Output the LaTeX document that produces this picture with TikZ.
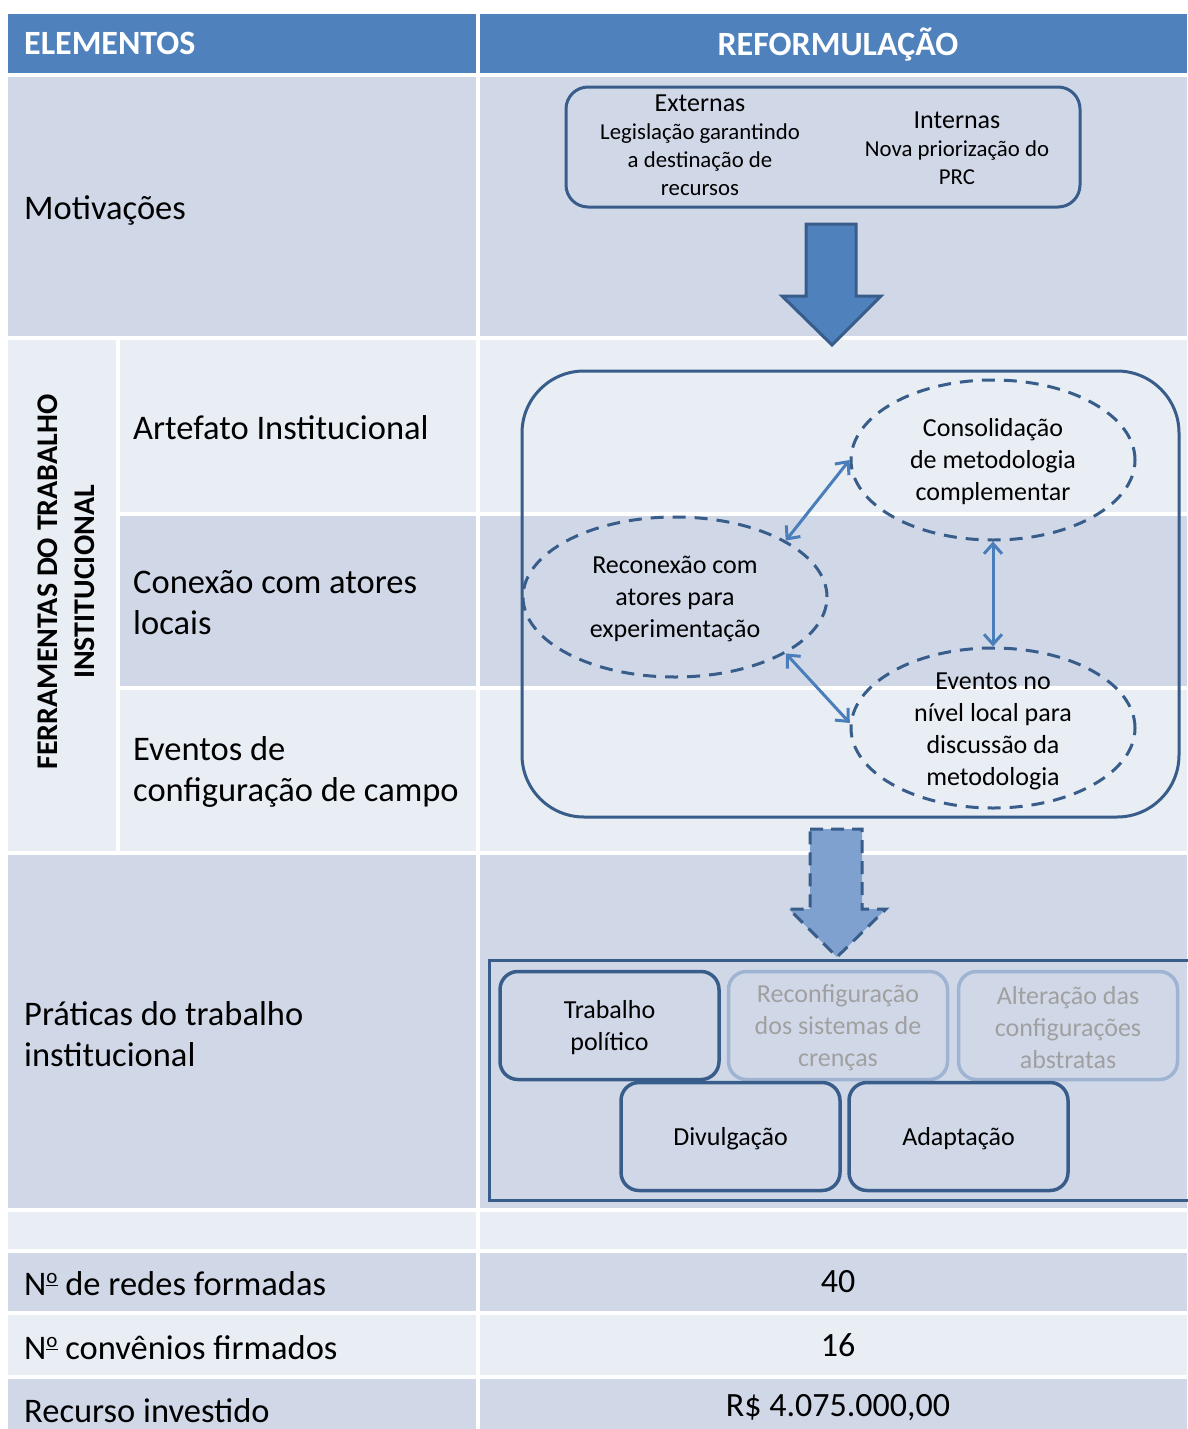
\documentclass[tikz,border=0pt]{standalone}
\usepackage{fontspec}
\setmainfont{Carlito}
\usetikzlibrary{arrows.meta,shapes.geometric}
\definecolor{hdr}{HTML}{4F81BD}
\definecolor{bandD}{HTML}{D0D8E8}
\definecolor{bandL}{HTML}{E9EDF4}
\definecolor{edge}{HTML}{385D8A}
\definecolor{link}{HTML}{4A7EBB}
\definecolor{ghost}{HTML}{9FB3D3}
\definecolor{ghosttext}{HTML}{A0A0A0}
\definecolor{softfill}{HTML}{7FA1CF}
% "No." sign with an underlined superscript o
\newcommand\numsign{N\raisebox{0.36em}{\fontsize{21}{21}\selectfont\underline{o}}}
\begin{document}
\begin{tikzpicture}[x=1pt,y=-1pt,
  bigtxt/.style={font=\fontsize{34.5}{41}\selectfont, inner sep=0pt, align=left},
  hdrtxt/.style={font=\bfseries\fontsize{34}{41}\selectfont, text=white, inner sep=0pt},
  numtxt/.style={font=\fontsize{34}{41}\selectfont, inner sep=0pt},
  midtxt/.style={font=\fontsize{26}{32}\selectfont, inner sep=0pt, align=center},
  smalltxt/.style={font=\fontsize{22.8}{28}\selectfont, inner sep=0pt, align=center},
  ghosttxt/.style={midtxt, text=ghosttext},
  cloud/.style={ellipse, draw=edge, line width=3pt, dash pattern=on 13pt off 9pt, inner sep=0pt},
  link/.style={draw=link, line width=3pt, {Straight Barb[length=10pt,width=18pt]}-{Straight Barb[length=10pt,width=18pt]}},
  pbox/.style={draw=edge, line width=3.5pt, rounded corners=18pt, minimum width=219pt, minimum height=108pt, inner sep=0pt},
  gbox/.style={pbox, draw=ghost},
  bigarrow/.style={fill=hdr, draw=edge, line width=3pt, line join=miter},
  softarrow/.style={fill=softfill, draw=edge, line width=3pt, dash pattern=on 13pt off 8pt}
]
\useasboundingbox (0,0) rectangle (1187,1429);
\fill[white] (0,0) rectangle (1187,1429);

% table cells
\fill[hdr] (8,14) rectangle (476,73);
\fill[hdr] (480,14) rectangle (1187,73);
\fill[bandD] (8,77) rectangle (476,336);
\fill[bandD] (480,77) rectangle (1187,336);
\fill[bandL] (8,340) rectangle (116,851);
\fill[bandL] (120,340) rectangle (476,512);
\fill[bandL] (480,340) rectangle (1187,512);
\fill[bandD] (120,516) rectangle (476,686);
\fill[bandD] (480,516) rectangle (1187,686);
\fill[bandL] (120,690) rectangle (476,851);
\fill[bandL] (480,690) rectangle (1187,851);
\fill[bandD] (8,855) rectangle (476,1208);
\fill[bandD] (480,855) rectangle (1187,1208);
\fill[bandL] (8,1212) rectangle (476,1249);
\fill[bandL] (480,1212) rectangle (1187,1249);
\fill[bandD] (8,1253) rectangle (476,1311);
\fill[bandD] (480,1253) rectangle (1187,1311);
\fill[bandL] (8,1315) rectangle (476,1375);
\fill[bandL] (480,1315) rectangle (1187,1375);
\fill[bandD] (8,1379) rectangle (476,1429);
\fill[bandD] (480,1379) rectangle (1187,1429);

% headings and row labels
\node[hdrtxt, anchor=west] (hElem) at (24,43) {ELEMENTOS};
\node[hdrtxt] (hRef) at (838,45) {REFORMULAÇÃO};
\node[bigtxt, anchor=west] (lMot) at (24,210) {Motivações};
\node[font=\bfseries\fontsize{30}{37}\selectfont, rotate=90, align=center, inner sep=0pt] (lFer) at (66,582) {FERRAMENTAS DO TRABALHO\\INSTITUCIONAL};
\node[bigtxt, anchor=west] (lArt) at (133,428) {Artefato Institucional};
\node[bigtxt, anchor=west] (lCon) at (133,603) {Conexão com atores\\locais};
\node[bigtxt, anchor=west] (lEve) at (133,772) {Eventos de\\configuração de campo};
\node[bigtxt, anchor=west] (lPra) at (24,1034) {Práticas do trabalho\\institucional};
\node[bigtxt, anchor=west] (lRed) at (24,1284) {\numsign{} de redes formadas};
\node[bigtxt, anchor=west] (lCnv) at (24,1348) {\numsign{} convênios firmados};
\node[bigtxt, anchor=west] (lRec) at (24,1411) {Recurso investido};
\node[numtxt] (vRed) at (838,1282) {40};
\node[numtxt] (vCnv) at (838,1345) {16};
\node[numtxt] (vRec) at (838,1408) {R\$ 4.075.000,00};

% motivations box
\draw[edge, line width=3pt, rounded corners=22pt] (566,87) rectangle (1080,207);
\node[smalltxt] (mExt) at (700,145)
  {{\fontsize{26}{28}\selectfont Externas}\\
   Legislação garantindo\\
   a destinação de\\
   recursos};
\node[smalltxt] (mInt) at (957,148)
  {{\fontsize{26}{28}\selectfont Internas}\\
   Nova priorização do\\
   PRC};

% arrow into the tools
\draw[bigarrow] (806,224) -- (856,224) -- (856,296) -- (881,296) -- (832,345) -- (782,296) -- (806,296) -- cycle;

% tools frame with the three clouds
\draw[edge, line width=3pt, rounded corners=62pt] (522,371) rectangle (1179,817);
\node[cloud, minimum width=284pt, minimum height=160pt] (con) at (993,460) {};
\node[cloud, minimum width=304pt, minimum height=160pt] (rec) at (675,597) {};
\node[cloud, minimum width=284pt, minimum height=160pt] (eve) at (993,728) {};
\node[midtxt] (tCon) at (993,462) {Consolidação\\de metodologia\\complementar};
\node[midtxt] (tRec) at (675,599) {Reconexão com\\atores para\\experimentação};
\node[midtxt] (tEve) at (993,731) {Eventos no\\nível local para\\discussão da\\metodologia};
\draw[link] (rec.27) -- (con.west);
\draw[link] (con.south) -- (eve.north);
\draw[link] (rec.-27) -- (eve.178);

% arrow into the practices
\draw[softarrow] (810,829) -- (862,829) -- (862,909) -- (886,909) -- (837,957) -- (789,909) -- (810,909) -- cycle;

% practices frame
\draw[edge, line width=3pt] (1195,960) -- (489,960) -- (489,1200) -- (1195,1200);
\node[pbox] (pTra) at (609.5,1025.5) {};
\node[midtxt] (tTra) at (609.5,1027.5) {Trabalho\\político};
\node[gbox] (pRcf) at (838,1025.5) {};
\node[ghosttxt] (tRcf) at (838,1028) {Reconfiguração\\dos sistemas de\\crenças};
\node[gbox] (pAlt) at (1068,1025.5) {};
\node[ghosttxt] (tAlt) at (1068,1028) {Alteração das\\configurações\\abstratas};
\node[pbox] (pDiv) at (730.5,1136.5) {};
\node[midtxt] (tDiv) at (730.5,1139) {Divulgação};
\node[pbox] (pAda) at (958.5,1136.5) {};
\node[midtxt] (tAda) at (958.5,1139) {Adaptação};
\end{tikzpicture}
\end{document}
